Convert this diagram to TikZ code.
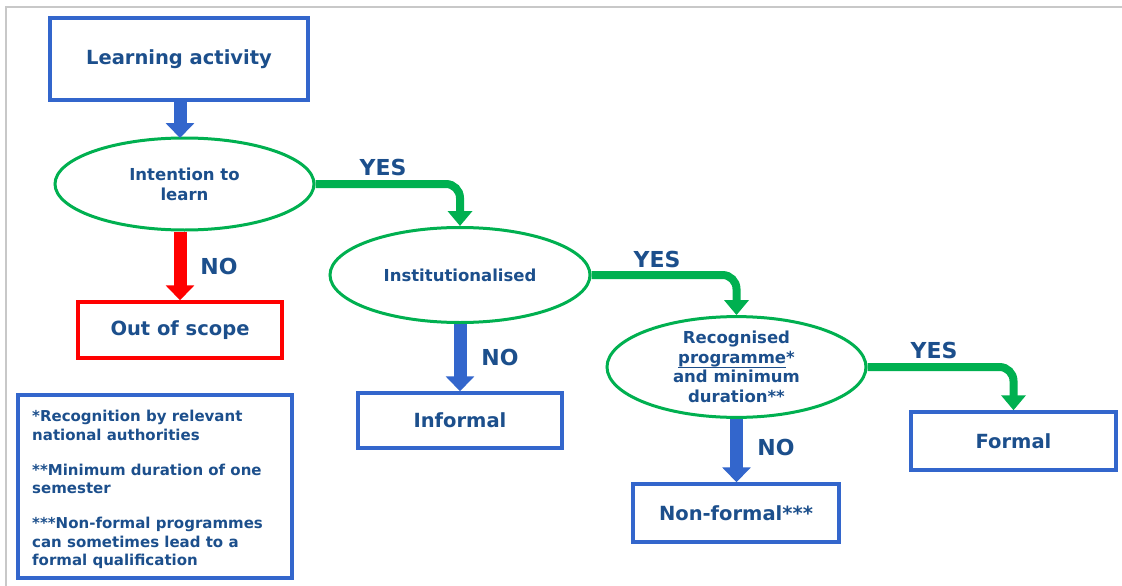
\documentclass[tikz,border=0pt]{standalone}
\usepackage{fontspec}
\setmainfont{DejaVu Sans}
\usetikzlibrary{shapes.geometric,arrows.meta}
\definecolor{bbox}{RGB}{51,102,204}
\definecolor{txt}{RGB}{28,79,140}
\definecolor{grn}{RGB}{0,176,80}
\definecolor{rd}{RGB}{255,0,0}
\definecolor{frame}{RGB}{200,200,200}
\newcommand\myul[1]{\setbox0\hbox{#1}\rlap{\rule[-4.8pt]{\wd0}{1.3pt}}\box0}
\tikzset{
  box/.style={draw=bbox,line width=3.5pt,fill=white,inner sep=0pt,text=txt,font=\bfseries\fontsize{19.5}{22}\selectfont,align=center},
  oval/.style={ellipse,draw=grn,line width=3pt,fill=white,inner sep=0pt,text=txt,font=\bfseries\fontsize{16.5}{20}\selectfont,align=center},
  lbl/.style={text=txt,font=\bfseries\fontsize{22}{24}\selectfont,inner sep=0pt},
  bluearrow/.style={draw=bbox,line width=13pt,-{Triangle[width=28pt,length=15pt]}},
  redarrow/.style={draw=rd,line width=13pt,-{Triangle[width=28pt,length=15pt]}},
  greenarrow/.style={draw=grn,line width=8pt,rounded corners=14pt,-{Triangle[width=24pt,length=15pt]}},
}
\begin{document}
\begin{tikzpicture}[x=1pt,y=-1pt]
\useasboundingbox (0,0) rectangle (1122,586);
\fill[white] (0,0) rectangle (1122,586);
\draw[frame,line width=1.5pt] (6,586) -- (6,7) -- (1122,7);

\node[box,minimum width=258pt,minimum height=82pt] (learn) at (179,59) {Learning activity};
\node[oval,minimum width=259pt,minimum height=92pt] (intent) at (184.5,184) {Intention to\\learn};
\node[box,draw=rd,minimum width=204pt,minimum height=56pt] (scope) at (180,330) {Out of scope};
\node[oval,minimum width=260pt,minimum height=95pt] (inst) at (460,275) {Institutionalised};
\node[box,minimum width=204pt,minimum height=55pt] (informal) at (460,420.5) {Informal};
\node[oval,minimum width=259pt,minimum height=93pt,font=\bfseries\fontsize{16.5}{19.5}\selectfont] (recog) at (736.5,367) {Recognised\\\myul{programme}*\\and minimum\\duration**};
\node[box,minimum width=206pt,minimum height=58pt] (nonformal) at (736,513) {Non-formal***};
\node[box,minimum width=205pt,minimum height=58pt] (formal) at (1013.5,441) {Formal};
\node[box,minimum width=274pt,minimum height=183pt] (notes) at (155,486.5) {};
\node[anchor=north west,text=txt,inner sep=0pt,align=left,font=\bfseries\fontsize{15}{18.5}\selectfont] (notetext) at (32,410) {*Recognition by relevant\\national authorities\\[16.5pt]**Minimum duration of one\\semester\\[16.5pt]***Non-formal programmes\\can sometimes lead to a\\formal qualification};

\draw[bluearrow] (learn.south -| 180,0) -- (180,138);
\draw[redarrow] (intent.south -| 180,0) -- (scope.north -| 180,0);
\draw[bluearrow] (inst.south) -- (informal.north -| inst.south);
\draw[bluearrow] (recog.south) -- (nonformal.north -| recog.south);
\draw[greenarrow] (intent.east) -| (inst.north);
\draw[greenarrow] (inst.east) -| (recog.north);
\draw[greenarrow] (recog.east) -| (formal.north);

\node[lbl] (no1) at (219,266) {NO};
\node[lbl] (no2) at (500,357) {NO};
\node[lbl] (no3) at (776,447) {NO};
\node[lbl] (yes1) at (383,167) {YES};
\node[lbl] (yes2) at (657,259) {YES};
\node[lbl] (yes3) at (934,350) {YES};
\end{tikzpicture}
\end{document}
